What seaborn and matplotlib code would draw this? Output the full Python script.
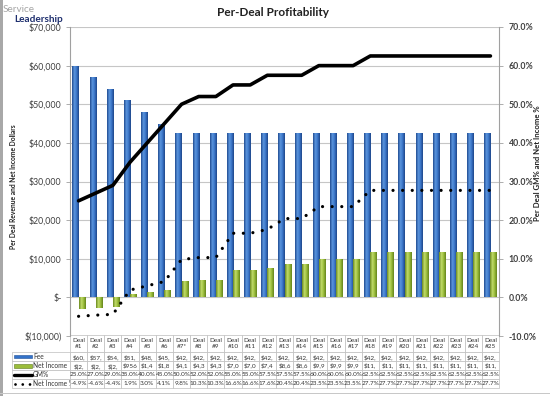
import numpy as np
import pandas as pd
import matplotlib
matplotlib.use("Agg")
import matplotlib.pyplot as plt
import seaborn as sns
from matplotlib.lines import Line2D
from matplotlib.patches import Rectangle
from matplotlib.colors import LinearSegmentedColormap
from matplotlib.ticker import FuncFormatter

# ---------------- data ----------------
deals = ["Deal\n#1", "Deal\n#2", "Deal\n#3", "Deal\n#4", "Deal\n#5", "Deal\n#6", "Deal\n#7*",
         "Deal\n#8", "Deal\n#9", "Deal\n#10", "Deal\n#11", "Deal\n#12", "Deal\n#13", "Deal\n#14",
         "Deal\n#15", "Deal\n#16", "Deal\n#17", "Deal\n#18", "Deal\n#19", "Deal\n#20", "Deal\n#21",
         "Deal\n#22", "Deal\n#23", "Deal\n#24", "Deal\n#25"]
fee = [60000, 57000, 54000, 51000, 48000, 45000, 42500, 42500, 42500, 42500, 42500, 42500, 42500,
       42500, 42500, 42500, 42500, 42500, 42500, 42500, 42500, 42500, 42500, 42500, 42500]
net_income = [-2940, -2622, -2376, 956, 1440, 1845, 4165, 4378, 4378, 7055, 7055, 7480, 8670,
              8670, 9988, 9988, 9988, 11773, 11773, 11773, 11773, 11773, 11773, 11773, 11773]
gm_pct = [25.0, 27.0, 29.0, 35.0, 40.0, 45.0, 50.0, 52.0, 52.0, 55.0, 55.0, 57.5, 57.5,
          57.5, 60.0, 60.0, 60.0, 62.5, 62.5, 62.5, 62.5, 62.5, 62.5, 62.5, 62.5]
ni_pct = [-4.9, -4.6, -4.4, 1.9, 3.0, 4.1, 9.8, 10.3, 10.3, 16.6, 16.6, 17.6, 20.4,
          20.4, 23.5, 23.5, 23.5, 27.7, 27.7, 27.7, 27.7, 27.7, 27.7, 27.7, 27.7]
row_labels = ["Fee", "Net Income", "GM%", "Net Income %"]

BLUE = "#3372C9"
GREEN = "#9BBD3A"
BLUE_GRAD = LinearSegmentedColormap.from_list(
    "bg", [(0, "#214C92"), (0.35, "#5C96DE"), (0.65, "#3C77CA"), (1, "#1E478A")])
GREEN_GRAD = LinearSegmentedColormap.from_list(
    "gg", [(0, "#6A8A1F"), (0.35, "#C3DC6C"), (0.65, "#9DBF3D"), (1, "#66851D")])

W, H = 550, 396
sns.set_theme(style="white")
plt.rcParams["font.family"] = ["Lato", "DejaVu Sans"]

fig = plt.figure(figsize=(W / 100, H / 100), dpi=100)
ax_l, ax_r, ax_t, ax_b = 70, 499, 27, 336
ax = fig.add_axes([ax_l / W, 1 - ax_b / H, (ax_r - ax_l) / W, (ax_b - ax_t) / H])

df = pd.DataFrame({"Deal": deals * 2,
                   "Value": fee + net_income,
                   "Series": ["Fee"] * len(deals) + ["Net Income"] * len(deals)})
sns.barplot(data=df, x="Deal", y="Value", hue="Series", order=deals,
            palette={"Fee": BLUE, "Net Income": GREEN}, width=0.72, saturation=1,
            ax=ax, legend=False, edgecolor="none")

# cylinder-like shading on each bar drawn by seaborn
grad = np.linspace(0, 1, 32).reshape(1, -1)
for p in list(ax.patches):
    x0, y0 = p.get_x(), p.get_y()
    w, h = p.get_width(), p.get_height()
    if w == 0 or h == 0:
        continue
    fc = p.get_facecolor()
    cmap = BLUE_GRAD if fc[2] > fc[1] else GREEN_GRAD
    ylo, yhi = min(y0, y0 + h), max(y0, y0 + h)
    im = ax.imshow(grad, cmap=cmap, extent=[x0, x0 + w, ylo, yhi], aspect="auto",
                   interpolation="bilinear", zorder=p.get_zorder() + 0.1)
    im.set_clip_path(p)
    p.set_edgecolor("none")

ax.set_xlim(-0.5, len(deals) - 0.5)
ax.set_ylim(-10000, 70000)
ax.set_yticks(np.arange(-10000, 70001, 10000))


def money(v, pos=None):
    if abs(v) < 1e-9:
        return "$-"
    if v < 0:
        return "$({:,.0f})".format(-v)
    return "${:,.0f}".format(v)


ax.yaxis.set_major_formatter(FuncFormatter(money))
ax.tick_params(axis="y", labelsize=6.3, colors="#404040", length=3, width=0.6,
               direction="out", pad=3, left=True)
ax.tick_params(axis="y", color="#A0A0A0")
ax.set_xticks([])
ax.set_xlabel("")
ax.set_ylabel("")
ax.grid(axis="y", color="#C6C6C6", linewidth=0.8)
ax.set_axisbelow(True)
for s in ["top", "bottom"]:
    ax.spines[s].set_visible(False)
for s in ["left", "right"]:
    ax.spines[s].set_color("#A0A0A0")
    ax.spines[s].set_linewidth(0.8)

ax2 = ax.twinx()
ax2.set_ylim(-10, 70)
ax2.set_yticks(np.arange(-10, 71, 10))
ax2.yaxis.set_major_formatter(FuncFormatter(lambda v, p: "{:.1f}%".format(v)))
ax2.tick_params(axis="y", labelsize=6.3, colors="#404040", length=3, width=0.6,
                direction="out", pad=4, right=True)
ax2.tick_params(axis="y", color="#A0A0A0")
for lab in ax2.get_yticklabels():
    lab.set_fontweight("bold")
for s in ["top", "bottom", "left", "right"]:
    ax2.spines[s].set_visible(False)
ax2.grid(False)
xs = np.arange(len(deals))
sns.lineplot(x=xs, y=gm_pct, ax=ax2, color="black", linewidth=2.6, legend=False)
ax2.lines[-1].set_solid_capstyle("round")
ax2.lines[-1].set_solid_joinstyle("round")
ax2.plot(xs, ni_pct, color="black", linewidth=2.3, linestyle=(0, (0.01, 3.0)),
         dash_capstyle="round")
ax2.set_xlim(-0.5, len(deals) - 0.5)
ax2.set_ylabel("")

# ---------------- data table ----------------
cell_text = [[money(v)[:4] for v in fee],
             [money(v)[:4] for v in net_income],
             ["{:.1f}%".format(v) for v in gm_pct],
             ["{:.1f}%".format(v) for v in ni_pct]]
lab_w = 58
tb_top, tb_bot = 335, 388
axw = ax_r - ax_l
axh = ax_b - ax_t
HDR, RH = 17.5, 8.9
tot = HDR + 4 * RH
hdr_ax = HDR / tot * (tb_bot - tb_top) / axh
rh_ax = RH / tot * (tb_bot - tb_top) / axh
tbl = ax.table(cellText=cell_text, rowLabels=row_labels, colLabels=deals,
               cellLoc="center", rowLoc="left",
               bbox=[0, -(tb_bot - ax_b) / axh, 1, (tb_bot - tb_top) / axh])
tbl._autoColumns = [c for c in tbl._autoColumns if c != -1]
tbl.auto_set_font_size(False)
tbl.set_fontsize(4.6)
for (r, c), cell in tbl.get_celld().items():
    cell.set_edgecolor("#BDBDBD")
    cell.set_linewidth(0.5)
    cell.get_text().set_color("#333333")
    cell.set_height(hdr_ax if r == 0 else rh_ax)
    if c == -1:
        cell.set_width(lab_w / axw)
        cell.PAD = 21.0 / lab_w
        cell.get_text().set_fontsize(4.8)
    else:
        cell.set_width(1.0 / len(deals))
        cell.PAD = 0.02
    if r == 0:
        cell.get_text().set_linespacing(1.25)

# legend keys inside the row label cells
hdr = HDR * (tb_bot - tb_top) / tot
rh = RH * (tb_bot - tb_top) / tot
yc = [tb_top + hdr + rh * (i + 0.5) for i in range(4)]
kx0, kx1 = 14, 32
fig.add_artist(Rectangle((kx0 / W, 1 - (yc[0] + 1.5) / H), (kx1 - kx0) / W, 3 / H,
                         transform=fig.transFigure, facecolor=BLUE, edgecolor="#1F4E96", lw=0.4))
fig.add_artist(Rectangle((kx0 / W, 1 - (yc[1] + 2) / H), (kx1 - kx0) / W, 4 / H,
                         transform=fig.transFigure, facecolor=GREEN, edgecolor="#5E7A1E", lw=0.4))
fig.add_artist(Line2D([kx0 / W, kx1 / W], [1 - yc[2] / H] * 2, transform=fig.transFigure,
                      color="black", lw=2.4))
fig.add_artist(Line2D([(kx0 + 1) / W, kx1 / W], [1 - yc[3] / H] * 2, transform=fig.transFigure,
                      color="black", lw=2.0, linestyle=(0, (0.01, 2.6)), dash_capstyle="round"))

# ---------------- titles / labels ----------------
fig.text(273 / W, 1 - 12 / H, "Per-Deal Profitability", ha="center", va="center",
         fontsize=8.5, fontweight="bold", color="#222222")
fig.text(14 / W, 1 - 187 / H, "Per Deal Revenue and Net Income Dollars", rotation=90,
         ha="center", va="center", fontsize=4.8, fontweight="bold", color="#222222")
fig.text(538 / W, 1 - 163 / H, "Per Deal GM% and Net Income %", rotation=90,
         ha="center", va="center", fontsize=5.6, fontweight="bold", color="#222222")

# logo
fig.text(3 / W, 1 - 10 / H, "Service", ha="left", va="center", fontsize=7.2, color="#A5A5A5")
fig.text(14 / W, 1 - 19 / H, "Leadership", ha="left", va="center", fontsize=7.2,
         fontweight="bold", color="#1E2F6E")

# frame
fig.add_artist(Rectangle((0, 0), 3 / W, 1, transform=fig.transFigure,
                         facecolor="#A8A8A8", edgecolor="none"))
fig.add_artist(Rectangle((0, 1 - 394 / H), 1, 1.5 / H, transform=fig.transFigure,
                         facecolor="#C8C8C8", edgecolor="none"))

fig.savefig("out.png", dpi=100)
